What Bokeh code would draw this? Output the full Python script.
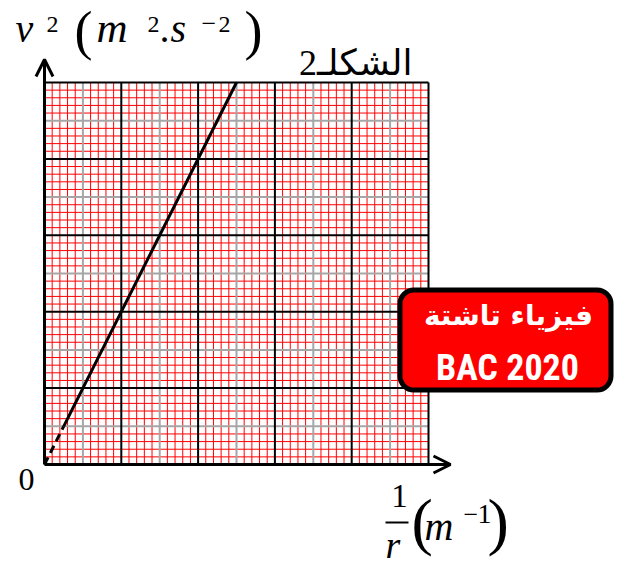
from bokeh.plotting import figure
from bokeh.models import Label, Arrow, OpenHead, BoxAnnotation
from bokeh.embed import file_html
from bokeh.resources import INLINE

# ---- data: v^2 as a function of 1/r (graph-paper units) ----
inv_r_dashed = [0.0, 0.25]
v2_dashed = [0.0, 0.5]
inv_r_solid = [0.25, 2.5]
v2_solid = [0.5, 5.0]

n_major = 5          # major squares along each axis
n_sub = 10           # small squares per major square

W, H = 622, 567
OX, OY = 44.0, 464.0     # canvas position of the origin
UX, UY = 76.8, 76.4      # pixels per major square
BASE_SHIFT = 0.35        # em correction for the alphabetic baseline


def dx(px):
    return (px - OX) / UX


def dy(py):
    return (OY - py) / UY


p = figure(width=W, height=H, x_range=(dx(0), dx(W)), y_range=(dy(H), dy(0)),
           min_border=0, toolbar_location=None, output_backend="svg",
           x_axis_location=None, y_axis_location=None)
p.grid.visible = False
p.outline_line_color = None
p.background_fill_color = "white"
p.border_fill_color = "white"

# ---- graph paper ----
steps = [i / n_sub for i in range(n_major * n_sub + 1)]
minor = [s for i, s in enumerate(steps) if i % n_sub not in (0, n_sub // 2)]
mid = [s for i, s in enumerate(steps) if i % n_sub == n_sub // 2]
major = [float(k) for k in range(1, n_major + 1)]

for lines, color, width in ((minor, "#ff0000", 1), (mid, "#a6a6a6", 2), (major, "black", 2)):
    p.segment(x0=lines, y0=0, x1=lines, y1=n_major, line_color=color, line_width=width)
    p.segment(x0=0, y0=lines, x1=n_major, y1=lines, line_color=color, line_width=width)

# ---- axes with open arrow heads ----
p.add_layout(Arrow(x_start=0, y_start=0, x_end=0, y_end=dy(59), line_width=3,
                   end=OpenHead(size=17, line_width=3, line_color="black")))
p.add_layout(Arrow(x_start=0, y_start=0, x_end=dx(450), y_end=0, line_width=3,
                   end=OpenHead(size=17, line_width=3, line_color="black")))

# ---- the straight line ----
p.line(inv_r_dashed, v2_dashed, line_color="black", line_width=3, line_dash="8 5")
p.line(inv_r_solid, v2_solid, line_color="black", line_width=3)


def lab(text, px, py, size, style="normal", align="left", font="Liberation Serif",
        color="black"):
    p.add_layout(Label(x=dx(px), y=dy(py - BASE_SHIFT * size), text=text, text_font=font,
                       text_font_size=f"{size}px", text_font_style=style,
                       text_align=align, text_baseline="alphabetic",
                       text_color=color))


# y-axis label  v²(m².s⁻²)
lab("v", 15, 42, 40, "italic")
lab("2", 46, 32, 24)
lab("(", 74, 49, 54)
lab("m", 96, 42, 43, "italic")
lab("2", 147, 32, 24)
lab(".s", 160, 42, 40, "italic")
lab("\u2212", 201, 32, 26)
lab("2", 218, 32, 24)
lab(")", 244, 49, 54)

# x-axis label  1/r (m⁻¹)
lab("1", 399, 507, 33, align="center")
p.segment(x0=[dx(385)], y0=[dy(522)], x1=[dx(408)], y1=[dy(522)], line_color="black", line_width=2)
lab("r", 385, 558, 38, "italic")
lab("(", 411, 543, 64)
lab("m", 424, 540, 40, "italic")
lab("\u2212", 463, 523, 26)
lab("1", 477, 523, 28)
lab(")", 487, 543, 64)

# origin and figure title
lab("0", 26, 490, 32, align="center")
lab("\u0627\u0644\u0634\u0643\u0644\u0640" + "2", 412, 75, 36, align="right",
    font="'Liberation Serif', 'DejaVu Sans'")

# ---- stamp box ----
p.add_layout(BoxAnnotation(left=dx(399.5), right=dx(610.5), top=dy(289.5), bottom=dy(389.5),
                           fill_color="#ff0000", fill_alpha=1.0, line_color="black",
                           line_alpha=1.0, line_width=5, border_radius=14))
lab("\u0641\u064a\u0632\u064a\u0627\u0621 \u062a\u0627\u0634\u062a\u0629", 508, 325, 28, "bold",
    align="center", font="DejaVu Sans", color="white")
lab("BAC 2020", 507, 380, 36, "bold", align="center",
    font="'Roboto Condensed', 'Liberation Serif'", color="white")

open("out.html", "w").write(file_html(p, INLINE))
